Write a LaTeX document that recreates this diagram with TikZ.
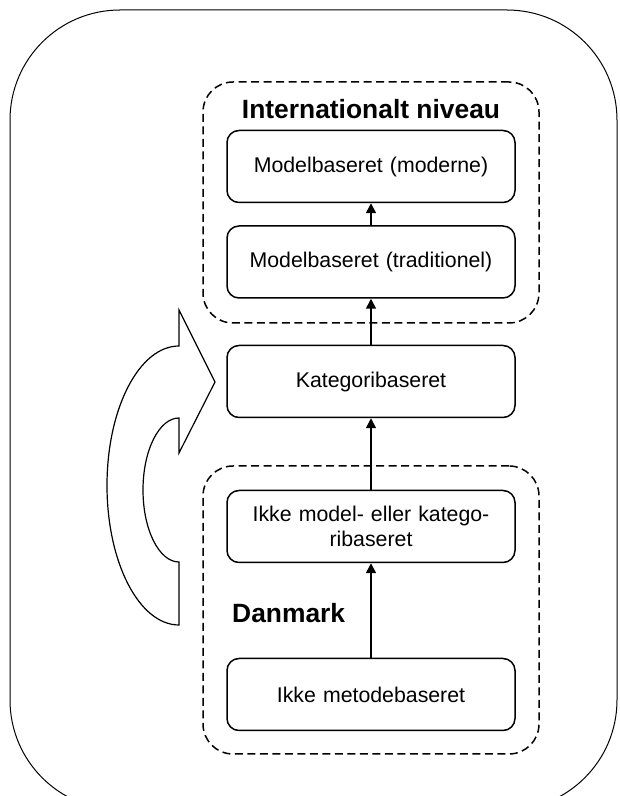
\documentclass[tikz,border=0pt]{standalone}
\usepackage{fontspec}
\setmainfont{Liberation Sans}
\usetikzlibrary{arrows.meta}
\begin{document}
\begin{tikzpicture}[x=1pt,y=1pt,
  stage/.style={draw, line width=1.5pt, rounded corners=12pt,
    minimum width=288pt, minimum height=72pt, inner sep=0pt,
    text width=280pt, align=center,
    font=\fontsize{21.3}{24.5}\selectfont},
  group/.style={draw, dash pattern=on 8pt off 4.5pt, line width=1.5pt,
    rounded corners=30pt, inner sep=0pt},
  grouptitle/.style={inner sep=0pt, font=\fontsize{26.4}{30}\selectfont\bfseries},
  flow/.style={line width=1.5pt, -{Triangle[length=10pt,width=10pt]}},
  uturn/.style={draw, fill=white, line width=1.2pt, line join=miter}]
\useasboundingbox (0,0) rectangle (620,796);
\clip (0,0) rectangle (620,796);

% outer frame
\draw[line width=1pt, rounded corners=110pt] (10,-14) rectangle (617,786);

% dashed groups
\node[group, minimum width=336pt, minimum height=241pt] (intl) at (371,593.5) {};
\node[group, minimum width=336pt, minimum height=288pt] (dk) at (371,186) {};

\node[grouptitle] (intltitle) at (371,687) {Internationalt niveau};
\node[grouptitle, anchor=west] (dktitle) at (232,183) {Danmark};

% stages
\node[stage] (moderne) at (371,629.5) {Modelbaseret (moderne)};
\node[stage] (trad) at (371,534) {Modelbaseret (traditionel)};
\node[stage] (kat) at (371,414.5) {Kategoribaseret};
\node[stage] (ikkemodel) at (371,269.5) {Ikke model- eller katego-\\ribaseret};
\node[stage] (metode) at (371,101.5) {Ikke metodebaseret};

% connectors
\draw[flow] (trad) -- (moderne);
\draw[flow] (kat) -- (trad);
\draw[flow] (ikkemodel) -- (kat);
\draw[flow] (metode) -- (ikkemodel);

% U-turn block arrow
\path[uturn] (179,450) -- (179,486) -- (215,414) -- (179,343) -- (179,378)
  arc[start angle=90, end angle=270, x radius=36, y radius=72]
  -- (179,171)
  arc[start angle=270, end angle=90, x radius=72, y radius=139.5]
  -- cycle;
\end{tikzpicture}
\end{document}
